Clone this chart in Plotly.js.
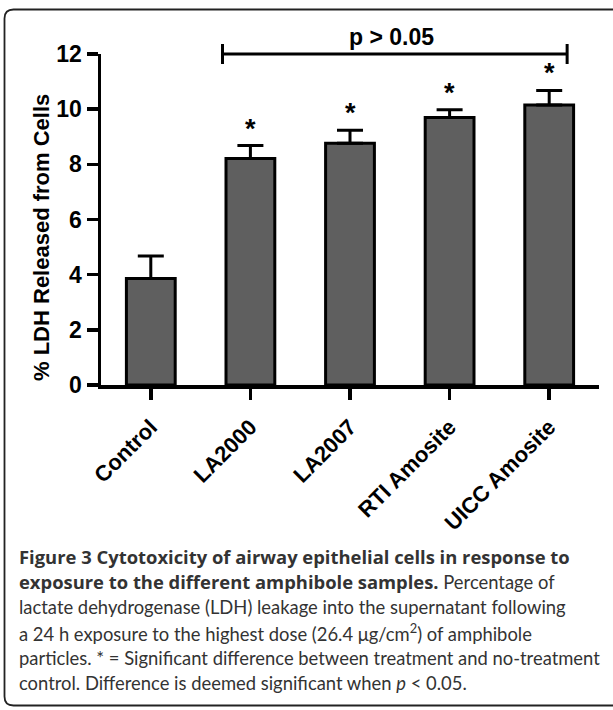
<!DOCTYPE html>
<html>
<head>
<meta charset="utf-8">
<script src="https://cdn.plot.ly/plotly-3.0.1.min.js"></script>
<style>
html,body{margin:0;padding:0;background:#fff;}
#chart{width:613px;height:710px;}
</style>
</head>
<body>
<div id="chart"></div>
<script>
// ---- data ----
const categories = ["Control", "LA2000", "LA2007", "RTI Amosite", "UICC Amosite"];
const meanLDH = [3.86, 8.21, 8.76, 9.70, 10.15];
const semLDH = [0.82, 0.47, 0.48, 0.28, 0.53];
const significant = [false, true, true, true, true];
const yTicks = [0, 2, 4, 6, 8, 10, 12];
const yTitle = "% LDH Released from Cells";
const bracketLabel = "p > 0.05";
const bracketFromCat = 1, bracketToCat = 4;
const B = s => "<span style=\"font-family:'Open Sans';font-weight:bold\">" + s + "</span>";
const captionLines = [
  B("Figure 3 Cytotoxicity of airway epithelial cells in response to"),
  B("exposure to the different amphibole samples.") + " Percentage of",
  "lactate dehydrogenase (LDH) leakage into the supernatant following",
  "a 24 h exposure to the highest dose (26.4 μg/cm<sup>2</sup>) of amphibole",
  "particles. * = Significant difference between treatment and no-treatment",
  "control. Difference is deemed significant when <i>p</i> &lt; 0.05."
];

// ---- layout geometry ----
const W = 613, H = 710;
const M = {l: 101, r: 14, t: 54, b: 325};
const plotW = W - M.l - M.r, plotH = H - M.t - M.b;
const xRange = [-0.5, categories.length - 0.5];
const px2paperX = p => (p - M.l) / plotW;
const px2paperY = p => (H - M.b - p) / plotH;
const cat2paper = c => (c - xRange[0]) / (xRange[1] - xRange[0]);

const boldFont = {family: "Liberation Sans, Arial, sans-serif", color: "#000", weight: "bold"};

const trace = {
  type: "bar",
  x: categories,
  y: meanLDH,
  width: 0.49,
  marker: {color: "#5f5f5f", line: {color: "#000", width: 3}},
  error_y: {type: "data", array: semLDH, arrayminus: semLDH.map(() => 0), symmetric: false,
            color: "#000", thickness: 3, width: 13},
  hoverinfo: "skip"
};

const annotations = [];
categories.forEach((c, i) => {
  if (significant[i]) annotations.push({
    xref: "x", yref: "y", x: c, y: meanLDH[i] + semLDH[i],
    text: "*", showarrow: false, yanchor: "bottom", yshift: 0,
    font: Object.assign({}, boldFont, {size: 27})
  });
});
const bx0 = cat2paper(bracketFromCat - 0.28), bx1 = cat2paper(bracketToCat + 0.18);
annotations.push({
  xref: "paper", yref: "paper", x: (bx0 + bx1) / 2 - 0.006, y: 1, yanchor: "bottom", yshift: 2,
  text: bracketLabel, showarrow: false, font: Object.assign({}, boldFont, {size: 23})
});
annotations.push({
  xref: "paper", yref: "paper", x: px2paperX(41), y: px2paperY(238),
  xanchor: "center", yanchor: "middle", textangle: -90,
  text: yTitle, showarrow: false, font: Object.assign({}, boldFont, {size: 22})
});
const capTop = 556, capStep = 25.4;
captionLines.forEach((t, i) => {
  annotations.push({
    xref: "paper", yref: "paper", x: px2paperX(17), y: px2paperY(capTop + i * capStep),
    xanchor: "left", yanchor: "middle", text: t, showarrow: false, align: "left",
    font: {family: "Lato, Open Sans, sans-serif", size: 18.4, color: "#333"}
  });
});

const shapes = [
  {type: "line", xref: "paper", yref: "paper", x0: bx0, x1: bx1, y0: 1, y1: 1,
   line: {color: "#000", width: 3}},
  {type: "line", xref: "paper", yref: "paper", ysizemode: "pixel", yanchor: 1,
   x0: bx0, x1: bx0, y0: -10, y1: 10, line: {color: "#000", width: 3}},
  {type: "line", xref: "paper", yref: "paper", ysizemode: "pixel", yanchor: 1,
   x0: bx1, x1: bx1, y0: -10, y1: 10, line: {color: "#000", width: 3}},
  // rounded figure frame (pixels relative to plot bottom-left)
  (function(){
    const L = 4.5 - M.l, R = 640 - M.l, T = (H - M.b) - 9.5, Bt = (H - M.b) - 705.5, r = 9;
    return {type: "path", xref: "paper", yref: "paper", xsizemode: "pixel", ysizemode: "pixel",
      xanchor: 0, yanchor: 0,
      path: `M ${L},${T - r} L ${L},${Bt + r} Q ${L},${Bt} ${L + r},${Bt} L ${R},${Bt} L ${R},${T} L ${L + r},${T} Q ${L},${T} ${L},${T - r} Z`,
      line: {color: "#222", width: 1.8}, fillcolor: "rgba(0,0,0,0)"};
  })()
];

const layout = {
  width: W, height: H,
  margin: M,
  paper_bgcolor: "#fff", plot_bgcolor: "#fff",
  showlegend: false,
  xaxis: {
    range: xRange, showline: true, linecolor: "#000", linewidth: 3.5,
    ticks: "outside", ticklen: 11, tickwidth: 3.5, tickcolor: "#000",
    tickangle: -45, tickfont: Object.assign({}, boldFont, {size: 22}), ticklabelstandoff: 6,
    showgrid: false, zeroline: false, fixedrange: true
  },
  yaxis: {
    range: [0, 12], tickvals: yTicks, ticktext: yTicks.map(String),
    showline: true, linecolor: "#000", linewidth: 3.5,
    ticks: "outside", ticklen: 11, tickwidth: 3.5, tickcolor: "#000",
    tickfont: Object.assign({}, boldFont, {size: 23}), ticklabelstandoff: 0,
    showgrid: false, zeroline: false, fixedrange: true
  },
  annotations: annotations,
  shapes: shapes
};

Plotly.newPlot("chart", [trace], layout, {staticPlot: true, displayModeBar: false});
</script>
</body>
</html>
